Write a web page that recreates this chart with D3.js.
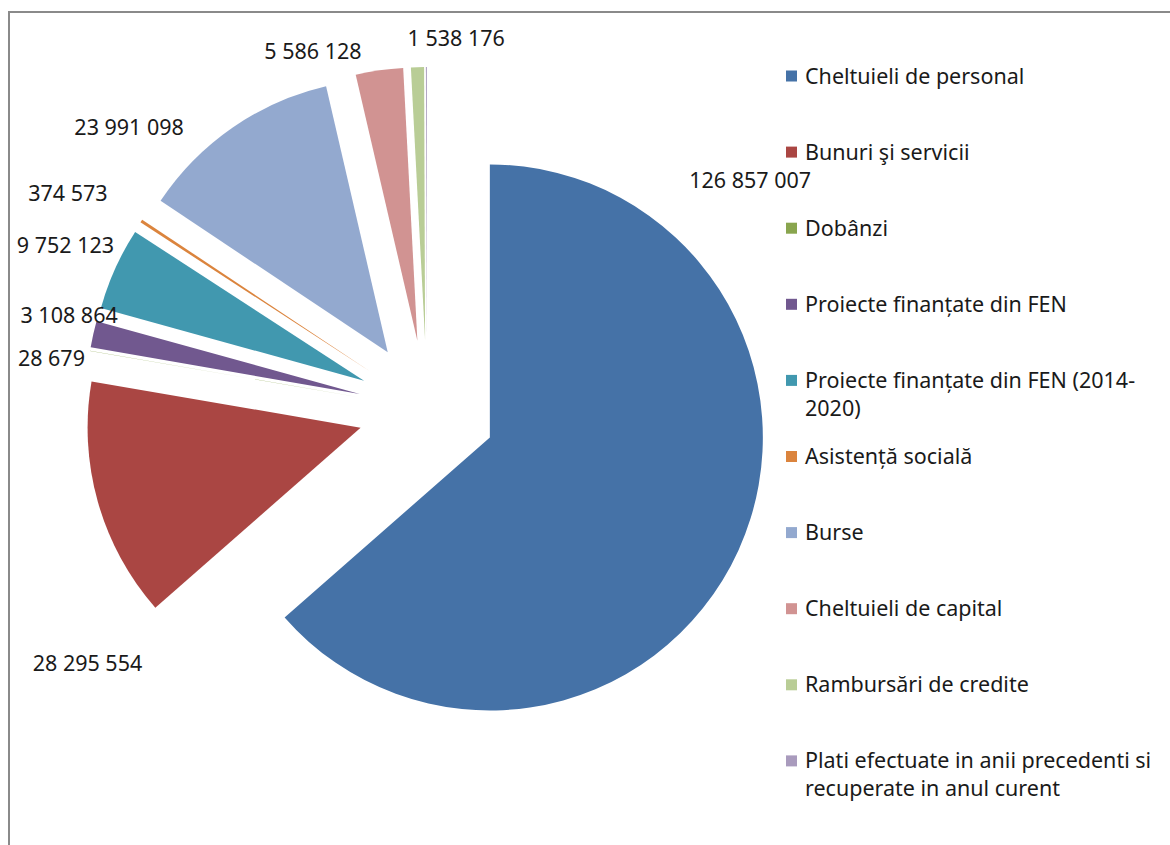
<!DOCTYPE html>
<html>
<head>
<meta charset="utf-8">
<script src="https://cdn.jsdelivr.net/npm/d3@7"></script>
<style>
  body { margin: 0; background: #fff; }
  svg { display: block; }
</style>
</head>
<body>
<svg id="chart"></svg>
<script>
// data
var categories = [
  "Cheltuieli de personal",
  "Bunuri şi servicii",
  "Dobânzi",
  "Proiecte finanțate din FEN",
  "Proiecte finanțate din FEN (2014-2020)",
  "Asistență socială",
  "Burse",
  "Cheltuieli de capital",
  "Rambursări de credite",
  "Plati efectuate in anii precedenti si recuperate in anul curent"
];
var values = [126857007, 28295554, 28679, 3108864, 9752123, 374573, 23991098, 5586128, 1538176, 115000];
var colors = ["#4572A7", "#AA4643", "#89A54E", "#71588F", "#4198AF", "#DB843D", "#93A9CF", "#D19392", "#B9CD96", "#A99BBD"];
// label placement (angle in degrees clockwise from top, distance from pie centre)
var labelAngles = [54.7, 233.2, 277.7, 284.7, 294.4, 301.0, 313.4, 342.3, 4.5, null];
var labelRadii = [396, 424, 379, 370, 397, 419, 410, 375, 372, null];

var width = 1170, height = 845;
var svg = d3.select("#chart").attr("width", width).attr("height", height);

var cx = 427, cy = 409, radius = 273, explode = 69;
var font = "'Noto Sans', 'Open Sans', sans-serif";
var fontSize = 21.5;

// frame
svg.append("rect")
  .attr("x", 9).attr("y", 12)
  .attr("width", 1300).attr("height", 1000)
  .attr("fill", "none")
  .attr("stroke", "#8a8a8a")
  .attr("stroke-width", 2);

var data = categories.map(function(c, i) { return {name: c, value: values[i], color: colors[i], i: i}; });

var pie = d3.pie().sort(null).value(function(d) { return d.value; }).startAngle(0).endAngle(2 * Math.PI);
var arcs = pie(data);
var arc = d3.arc().innerRadius(0).outerRadius(radius);

var g = svg.append("g").attr("transform", "translate(" + cx + "," + cy + ")");

g.selectAll("path.slice")
  .data(arcs)
  .enter().append("path")
  .attr("class", "slice")
  .attr("d", arc)
  .attr("fill", function(d) { return d.data.color; })
  .attr("transform", function(d) {
    var a = (d.startAngle + d.endAngle) / 2;
    return "translate(" + (Math.sin(a) * explode) + "," + (-Math.cos(a) * explode) + ")";
  });

var fmt = function(v) { return d3.format(",")(v).replace(/,/g, " "); };

g.selectAll("text.lbl")
  .data(arcs.filter(function(d) { return labelAngles[d.data.i] != null; }))
  .enter().append("text")
  .attr("class", "lbl")
  .attr("x", function(d) { return Math.sin(labelAngles[d.data.i] * Math.PI / 180) * labelRadii[d.data.i]; })
  .attr("y", function(d) { return -Math.cos(labelAngles[d.data.i] * Math.PI / 180) * labelRadii[d.data.i]; })
  .attr("dy", "0.35em")
  .attr("text-anchor", "middle")
  .attr("font-family", font)
  .attr("font-size", fontSize)
  .attr("fill", "#1a1a1a")
  .text(function(d) { return fmt(d.data.value); });

// legend
var legend = svg.append("g")
  .attr("font-family", font)
  .attr("font-size", fontSize)
  .selectAll("g")
  .data(data)
  .enter().append("g")
  .attr("transform", function(d, i) { return "translate(786," + (76 + i * 76.1) + ")"; });

legend.append("rect")
  .attr("x", 0).attr("y", -5.5)
  .attr("width", 11).attr("height", 11)
  .attr("fill", function(d) { return d.color; });

var maxW = 360;
legend.each(function(d) {
  var item = d3.select(this);
  var tokens = d.name.match(/[^\s-]+-?\s*/g);
  var lines = [], cur = "";
  var probe = item.append("text").attr("visibility", "hidden");
  tokens.forEach(function(t) {
    var test = cur + t;
    probe.text(test.trim());
    if (cur && probe.node().getComputedTextLength() > maxW) {
      lines.push(cur.trim());
      cur = t;
    } else {
      cur = test;
    }
  });
  lines.push(cur.trim());
  probe.remove();
  lines.forEach(function(l, k) {
    item.append("text")
      .attr("x", 19)
      .attr("y", k * 28)
      .attr("dy", "0.35em")
      .attr("fill", "#1a1a1a")
      .text(l);
  });
});
</script>
</body>
</html>
